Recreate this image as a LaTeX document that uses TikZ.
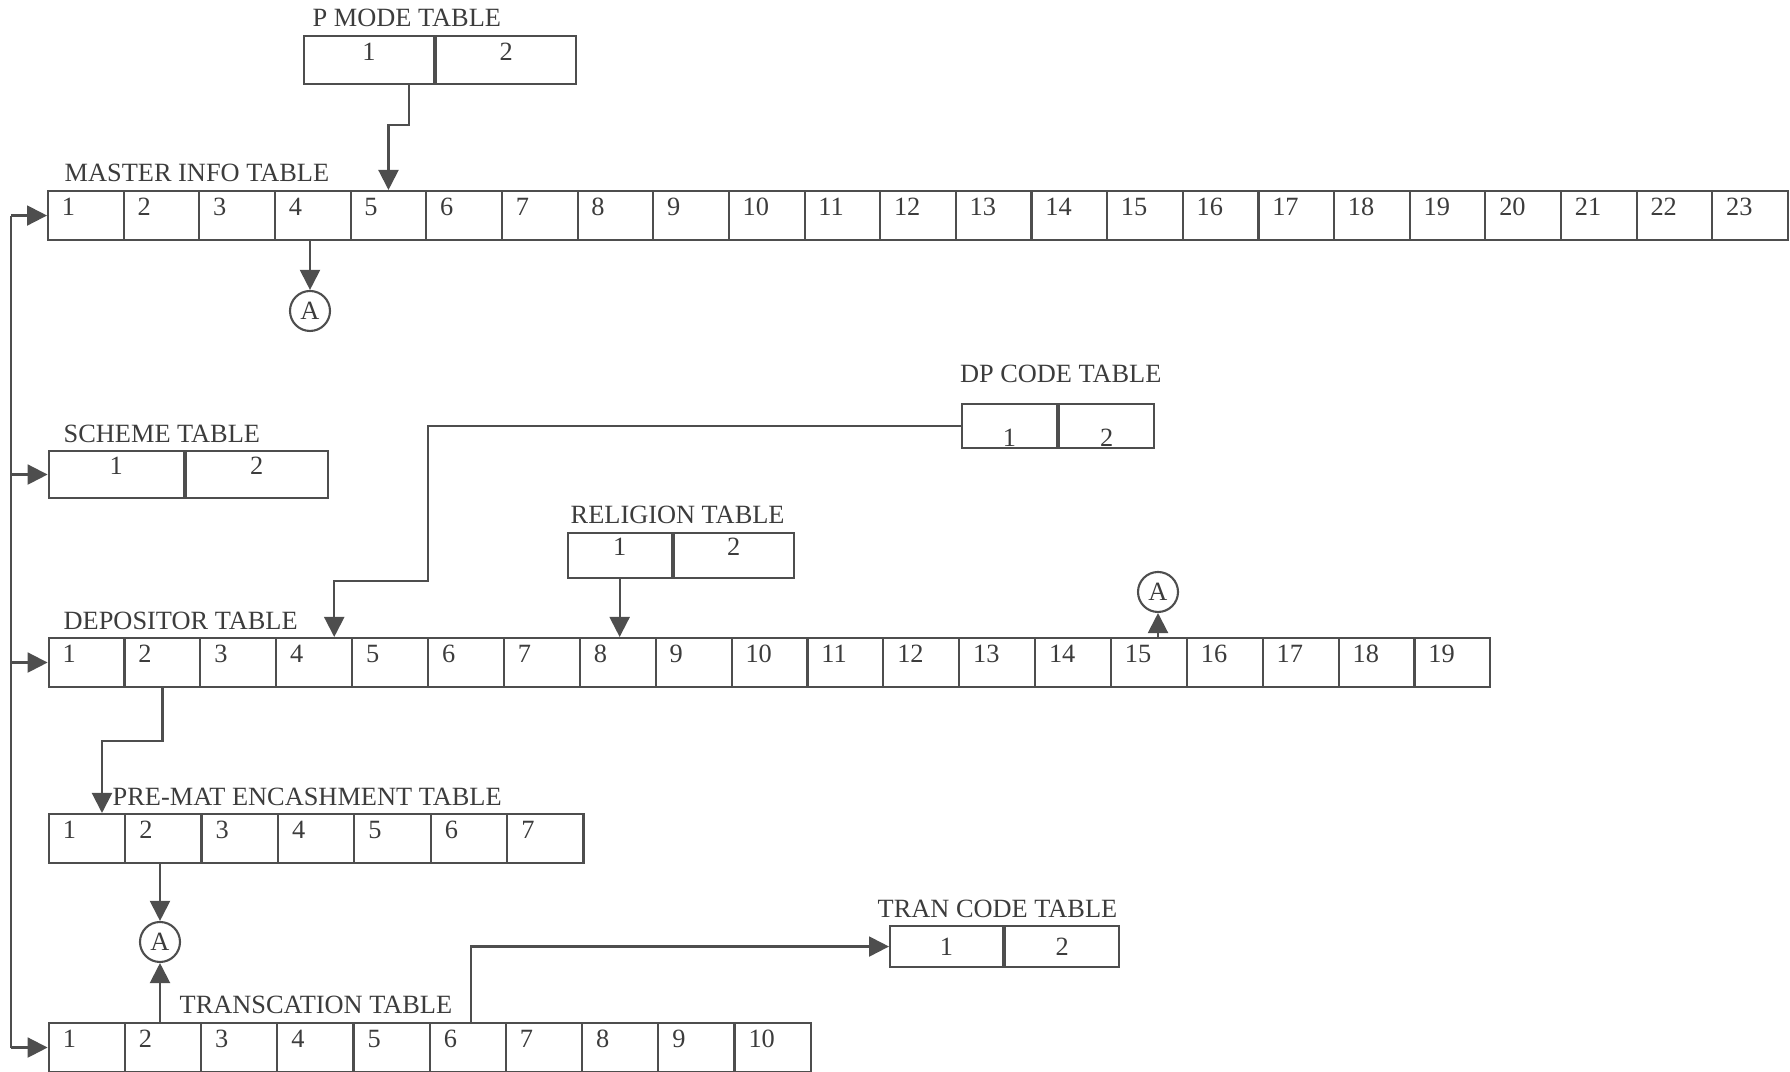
\documentclass[tikz,border=0pt]{standalone}
\usepackage{fontspec}
\setmainfont{Liberation Serif}
\usetikzlibrary{arrows.meta,calc,positioning}

\definecolor{ink}{HTML}{3C3C3C}
\definecolor{wirec}{HTML}{4E4E4E}

\tikzset{
  cell/.style={draw=wirec, line width=0.6pt, anchor=north west,
    minimum width=#1, minimum height=0.49cm, inner xsep=0.13cm, inner ysep=0pt,
    text width=0.48cm, align=left, text height=0.15cm, text depth=0.15cm},
  pair/.style={draw=wirec, line width=0.6pt, anchor=north west, inner sep=0pt,
    text height=0.15cm, text depth=0.15cm},
  tabname/.style={anchor=base west, inner sep=0pt},
  joint/.style={draw=wirec, circle, line width=0.6pt, minimum size=0.4cm, inner sep=0pt},
  link/.style={draw=wirec, line width=0.6pt},
  conn/.style={link, -{Triangle[length=0.2cm,width=0.2cm]}},
}

\begin{document}
\begin{tikzpicture}[font=\fontsize{7.5}{9}\selectfont, text=ink]
\useasboundingbox (0,0) rectangle (17.9,10.72);

% ── P MODE TABLE ──────────────────────────────────────────────
\node[pair, minimum width=1.30cm, minimum height=0.48cm] (pm-1) at (3.03, 10.37) {1};
\node[pair, minimum width=1.40cm, minimum height=0.48cm] (pm-2) at (pm-1.north east) {2};
\node[tabname] (pm-t) at ($(pm-1.north west)+(0.09,0.083)$) {P MODE TABLE};

% ── MASTER INFO TABLE ─────────────────────────────────────────
\foreach \i in {1,...,23}
  \node[cell=0.7565cm] (mi-\i) at ({0.47+(\i-1)*0.7565}, 8.82) {\i};
\node[tabname] (mi-t) at ($(mi-1.north west)+(0.17,0.083)$) {MASTER INFO TABLE};

% ── SCHEME TABLE ──────────────────────────────────────────────
\node[pair, minimum width=1.35cm, minimum height=0.47cm] (sc-1) at (0.476, 6.22) {1};
\node[pair, minimum width=1.42cm, minimum height=0.47cm] (sc-2) at (sc-1.north east) {2};
\node[tabname] (sc-t) at ($(sc-1.north west)+(0.154,0.077)$) {SCHEME TABLE};

% ── DP CODE TABLE (figures sit low) ───────────────────────────
\node[pair, minimum width=0.95cm, minimum height=0.44cm, text height=0.40cm, text depth=0cm]
  (dc-1) at (9.61, 6.69) {1};
\node[pair, minimum width=0.95cm, minimum height=0.44cm, text height=0.40cm, text depth=0cm]
  (dc-2) at (dc-1.north east) {2};
\node[tabname] (dc-t) at ($(dc-1.north west)+(-0.017,0.204)$) {DP CODE TABLE};

% ── RELIGION TABLE ────────────────────────────────────────────
\node[pair, minimum width=1.04cm, minimum height=0.45cm] (rl-1) at (5.666, 5.40) {1};
\node[pair, minimum width=1.20cm, minimum height=0.45cm] (rl-2) at (rl-1.north east) {2};
\node[tabname] (rl-t) at ($(rl-1.north west)+(0.034,0.084)$) {RELIGION TABLE};

% ── DEPOSITOR TABLE ───────────────────────────────────────────
\foreach \i in {1,...,19}
  \node[cell=0.7588cm] (dp-\i) at ({0.476+(\i-1)*0.7588}, 4.35) {\i};
\node[tabname] (dp-t) at ($(dp-1.north west)+(0.154,0.07)$) {DEPOSITOR TABLE};

% ── PRE-MAT ENCASHMENT TABLE ──────────────────────────────────
\foreach \i in {1,...,7}
  \node[cell=0.764cm] (pe-\i) at ({0.476+(\i-1)*0.764}, 2.59) {\i};
\node[tabname] (pe-t) at ($(pe-1.north west)+(0.644,0.07)$) {PRE-MAT ENCASHMENT TABLE};

% ── TRAN CODE TABLE ───────────────────────────────────────────
\node[pair, minimum width=1.13cm, minimum height=0.41cm, text height=0.17cm, text depth=0cm]
  (tc-1) at (8.89, 1.47) {1};
\node[pair, minimum width=1.14cm, minimum height=0.41cm, text height=0.17cm, text depth=0cm]
  (tc-2) at (tc-1.north east) {2};
\node[tabname] (tc-t) at ($(tc-1.north west)+(-0.12,0.07)$) {TRAN CODE TABLE};

% ── TRANSCATION TABLE ─────────────────────────────────────────
\foreach \i in {1,...,10}
  \node[cell=0.762cm] (tr-\i) at ({0.476+(\i-1)*0.762}, 0.50) {\i};
\node[tabname] (tr-t) at ($(tr-1.north west)+(1.314,0.087)$) {TRANSCATION TABLE};

% ── Connector circles ─────────────────────────────────────────
\node[joint] (a1) at (3.10, 7.61) {A};
\node[joint] (a2) at (11.58, 4.80) {A};
\node[joint] (a3) at (1.60, 1.30) {A};

% ── Bus on the left ───────────────────────────────────────────
\coordinate (bus) at (0.11, 0);
\draw[link] (bus |- mi-1.west) -- (bus |- tr-1.west);
\foreach \t in {mi-1, sc-1, dp-1, tr-1}
  \draw[conn] (bus |- \t.west) -- (\t.west);

% ── P MODE -> MASTER INFO ─────────────────────────────────────
\coordinate (pm-out) at ($(pm-1.south east)+(-0.26,0)$);
\draw[conn] (pm-out) -- ++(0,-0.40) -| (mi-5.north);

% ── MASTER INFO -> A ──────────────────────────────────────────
\draw[conn] (mi-4.south -| a1) -- (a1.north);

% ── DP CODE -> DEPOSITOR ──────────────────────────────────────
\coordinate (dc-bend) at (4.28, 4.91);
\draw[conn] (dc-1.west) -| (dc-bend) -| ($(dp-4.north east)+(-0.19,0)$);

% ── RELIGION -> DEPOSITOR ─────────────────────────────────────
\draw[conn] (rl-1.south) -- (rl-1.south |- dp-8.north);

% ── DEPOSITOR -> A ────────────────────────────────────────────
\draw[conn] (a2 |- dp-15.north) -- (a2.south);

% ── DEPOSITOR -> PRE-MAT ENCASHMENT ───────────────────────────
\coordinate (pe-bend) at (1.02, 3.31);
\draw[conn] (dp-2.south) |- (pe-bend) -- (pe-bend |- pe-1.north);

% ── PRE-MAT / TRANSCATION -> A ────────────────────────────────
\draw[conn] (pe-2.south -| a3) -- (a3.north);
\draw[conn] (tr-2.north -| a3) -- (a3.south);

% ── TRANSCATION -> TRAN CODE ──────────────────────────────────
\draw[conn] ($(tr-6.north)+(0.03,0)$) |- (tc-1.west);

\end{tikzpicture}
\end{document}
